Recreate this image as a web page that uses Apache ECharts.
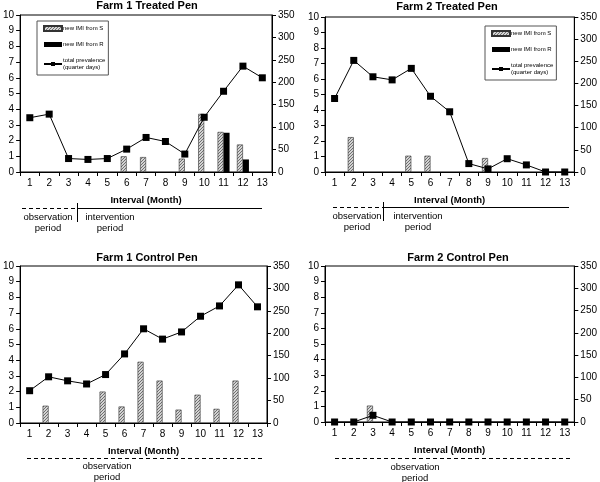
<!DOCTYPE html>
<html><head><meta charset="utf-8">
<script src="https://cdn.jsdelivr.net/npm/echarts@6/dist/echarts.min.js"></script>
<style>html,body{margin:0;padding:0;background:#fff}#c{width:600px;height:482px}</style>
</head><body><div id="c"></div>
<script>
const months = ['1','2','3','4','5','6','7','8','9','10','11','12','13'];
const leftTicks = [0,10,1];
const rightTicks = [0,350,50];
const titles = ['Farm 1 Treated Pen','Farm 2 Treated Pen','Farm 1 Control Pen','Farm 2 Control Pen'];

// Farm 1 treated
const f1tS = [null,null,null,null,null,1.0,0.95,null,0.85,3.7,2.55,1.75,null];
const f1tR = [null,null,null,null,null,null,null,null,null,null,2.5,0.8,null];
const f1tPrev = [121,129,30,28,30,51,77,68,40,122,180,236,210];
// Farm 2 treated
const f2tS = [null,2.25,null,null,1.05,1.05,null,null,0.9,null,null,null,null];
const f2tR = [null,null,null,null,null,null,null,null,null,null,null,null,null];
const f2tPrev = [166,252,215,208,234,171,136,19,7,30,16,0,0];
// Farm 1 control
const f1cS = [null,1.1,null,null,2.0,1.05,3.9,2.7,0.85,1.8,0.9,2.7,null];
const f1cR = [null,null,null,null,null,null,null,null,null,null,null,null,null];
const f1cPrev = [72,103,94,87,108,154,210,187,203,238,261,308,259];
// Farm 2 control
const f2cS = [null,null,1.05,null,null,null,null,null,null,null,null,null,null];
const f2cR = [null,null,null,null,null,null,null,null,null,null,null,null,null];
const f2cPrev = [0,0,15,0,0,0,0,0,0,0,0,0,0];

const panels = [
  {S:f1tS,R:f1tR,P:f1tPrev},
  {S:f2tS,R:f2tR,P:f2tPrev},
  {S:f1cS,R:f1cR,P:f1cPrev},
  {S:f2cS,R:f2cR,P:f2cPrev}
];

// hatch pattern
const pc = document.createElement('canvas');
pc.width = 3; pc.height = 3;
const g = pc.getContext('2d');
g.fillStyle = '#d4d4d4'; g.fillRect(0,0,3,3);
g.fillStyle = '#707070';
g.fillRect(2,0,1,1); g.fillRect(1,1,1,1); g.fillRect(0,2,1,1);
const hatch = {image: pc, repeat: 'repeat'};

const FONT = '"Liberation Sans", Arial, sans-serif';
const grids = [
  {left:17, top:15, width:255, height:157},
  {left:325, top:17, width:252, height:155},
  {left:17, top:266, width:250, height:157},
  {left:325, top:266, width:250, height:156}
];
const titlePos = [[147,0],[447,1],[147,252],[458,252]];

const xAxis = [], yAxis = [], series = [], title = [];
grids.forEach((gr,i)=>{
  title.push({text:titles[i], left:titlePos[i][0], top:titlePos[i][1], textAlign:'center', padding:0,
    textStyle:{fontFamily:FONT, fontSize:11, fontWeight:'bold', color:'#000'}});
  xAxis.push({type:'category', gridIndex:i, data:months, boundaryGap:true,
    name:'Interval (Month)', nameLocation:'middle', nameGap:23,
    nameTextStyle:{fontFamily:FONT, fontSize:9.5, fontWeight:'bold', color:'#000'},
    axisLine:{lineStyle:{color:'#000', width:1}},
    axisTick:{show:true, length:4, interval:0, lineStyle:{color:'#000'}},
    axisLabel:{interval:0, margin:6, fontFamily:FONT, fontSize:10, color:'#000'},
    splitLine:{show:false}});
  yAxis.push({type:'value', gridIndex:i, position:'left', min:leftTicks[0], max:leftTicks[1], interval:leftTicks[2],
    axisLine:{show:true, lineStyle:{color:'#000'}},
    axisTick:{show:true, length:4, lineStyle:{color:'#000'}},
    axisLabel:{margin:6, fontFamily:FONT, fontSize:10, color:'#000'},
    splitLine:{show:false}});
  yAxis.push({type:'value', gridIndex:i, position:'right', min:rightTicks[0], max:rightTicks[1], interval:rightTicks[2],
    axisLine:{show:true, lineStyle:{color:'#000'}},
    axisTick:{show:true, length:4, lineStyle:{color:'#000'}},
    axisLabel:{margin:6, fontFamily:FONT, fontSize:10, color:'#000'},
    splitLine:{show:false}});
  const p = panels[i];
  series.push({type:'bar', name:'new IMI from S', xAxisIndex:i, yAxisIndex:2*i, data:p.S,
    barWidth:6, barGap:'0%', itemStyle:{color:hatch, borderColor:'#333', borderWidth:0.6}});
  series.push({type:'bar', name:'new IMI from R', xAxisIndex:i, yAxisIndex:2*i, data:p.R,
    barWidth:6, barGap:'0%', itemStyle:{color:'#000'}});
  series.push({type:'line', name:'total prevalence', xAxisIndex:i, yAxisIndex:2*i+1, data:p.P,
    symbol:'rect', symbolSize:7, lineStyle:{color:'#000', width:1}, itemStyle:{color:'#000'}, z:5});
});

function legendAt(left, top){
  return {orient:'vertical', left:left, top:top,
    padding:[4,3,4,6], itemGap:9, itemWidth:18, itemHeight:5,
    borderColor:'#555', borderWidth:1, backgroundColor:'#fff', selectedMode:false,
    data:[{name:'new IMI from S', icon:'rect'},{name:'new IMI from R', icon:'rect'},{name:'total prevalence'}],
    formatter:n => n==='total prevalence' ? 'total prevalence\n(quarter days)' : n,
    textStyle:{fontFamily:FONT, fontSize:6, lineHeight:7, color:'#000', padding:[0,0,0,-4]}};
}

const L = (x1,y1,x2,y2,dash)=>({type:'line', shape:{x1,y1,x2,y2}, style:{stroke:'#000', lineWidth:1, lineDash:dash?[4,3]:null}});
const T = (x,y,t)=>({type:'text', x, y, style:{text:t, fontFamily:FONT, fontSize:9.5, fill:'#000', align:'center', verticalAlign:'middle'}});
const graphic = [
  L(22,208.5,77,208.5,true), L(77,208.5,262,208.5,false), L(77.5,203,77.5,222,false),
  T(48,217,'observation'), T(48,228,'period'), T(110,217,'intervention'), T(110,228,'period'),
  L(333,207.5,383,207.5,true), L(383,207.5,569,207.5,false), L(383.5,202,383.5,221,false),
  T(357,216,'observation'), T(357,227,'period'), T(418,216,'intervention'), T(418,227,'period'),
  L(27,458.5,262,458.5,true), T(107,466,'observation'), T(107,477,'period'),
  L(335,458.5,570,458.5,true), T(415,467,'observation'), T(415,478,'period')
];

const chart = echarts.init(document.getElementById('c'), null, {renderer:'canvas'});
chart.setOption({
  animation:false, backgroundColor:'#fff',
  title, grid: grids.map(gr=>Object.assign({show:true, borderColor:'#000', borderWidth:1, containLabel:false}, gr)),
  xAxis, yAxis, series,
  legend:[legendAt(37,21), legendAt(485,26)],
  graphic
});
</script></body></html>
